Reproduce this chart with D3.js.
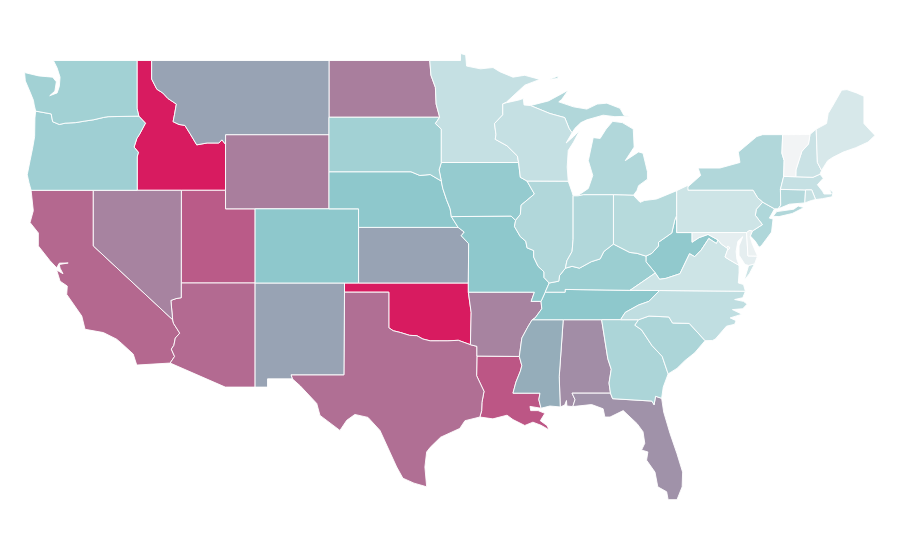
<!DOCTYPE html>
<html>
<head>
<meta charset="utf-8">
<style>
  html, body { margin: 0; padding: 0; background: #fff; }
  .state { stroke: #fff; stroke-width: 0.9; stroke-linejoin: round; }
</style>
<script src="https://cdn.jsdelivr.net/npm/d3@7"></script>
</head>
<body>
<script>
// values, same order in both lists
var stateNames = ["ID","OK","LA","UT","CA","AZ","TX","WY","ND","NV","AR","AL","FL","KS","MT","NM","MS",
  "CO","NE","TN","MO","WV","IA","KY","OR","WA","SD","GA","SC","NJ","IL","MI","NY","IN","CT","OH",
  "NC","MN","WI","MA","RI","NH","VA","PA","ME","MD","DE","DC","VT"];
var stateValues = [100,100,76,74,69,68,66,60,60,58,58,54,52,45,45,45,41,
  30,30,30,30,29,28,26,25,24,24,21,21,20,19.5,19.5,19.5,19.5,19,18,
  15,13.5,13.5,13.5,13,12,11,11,8,4,2,1,0];

var colorDomain = [0, 30, 45, 100];
var colorRange = ["#f2f4f5", "#8ec8cc", "#98a3b4", "#d81b60"];

// lon/lat limits of the flat projection and where they land on the page
var lonDomain = [-120, -80.52], xRange = [93.3, 676.7];
var latDomain = [49, 37, 25.1], yRange = [60.5, 283, 501.5];

// shared borders, hand traced, each one used by both neighbours
var borders = {
  waCoast: [[-122.7,49],[-122.45,48.6],[-122.25,48.1],[-122.3,47.6],[-122.45,47.25],[-122.95,47.1],[-122.6,47.35],[-122.5,47.85],[-122.75,48.1],[-123.15,48.13],[-123.7,48.17],[-124.65,48.35],[-124.6,47.9],[-124.28,47.3],[-124.05,46.85],[-124,46.6],[-123.9,46.27]],
  waOr: [[-123.9,46.27],[-123.4,46.2],[-122.85,46.12],[-122.75,45.7],[-122.3,45.55],[-121.9,45.62],[-121.2,45.65],[-120.6,45.73],[-120,45.8],[-119.3,45.93],[-119,45.97],[-116.92,46]],
  waId: [[-117.04,49],[-117.04,46.42],[-116.92,46]],
  orCoast: [[-123.9,46.27],[-123.95,45.9],[-123.97,44.9],[-124.1,44.3],[-124.28,43.6],[-124.47,42.84],[-124.35,42.4],[-124.21,42]],
  orId: [[-116.92,46],[-116.47,45.62],[-116.85,45.05],[-117.05,44.8],[-117.24,44.33],[-116.95,44.05],[-117.03,43.8],[-117.03,42]],
  idSouth: [[-117.03,42],[-114.04,42],[-111.05,42]],
  idWy: [[-111.05,42],[-111.05,44.48]],
  idMt: [[-116.05,49],[-116.05,48],[-115.7,47.45],[-115.3,47.25],[-114.95,46.95],[-114.38,46.65],[-114.5,46.1],[-114.6,45.7],[-114.2,45.55],[-113.8,45.5],[-113.45,45.05],[-113,44.45],[-112.3,44.55],[-111.5,44.55],[-111.3,44.72],[-111.05,44.48]],
  wyTop: [[-111.05,44.48],[-111.05,45],[-104.05,45]],
  ndMn: [[-97.23,49],[-97.15,48.2],[-96.85,47.55],[-96.8,46.65],[-96.56,45.94]],
  sdMn: [[-96.56,45.94],[-96.85,45.6],[-96.45,45.3],[-96.45,43.5]],
  sdIa: [[-96.45,43.5],[-96.6,43.1],[-96.45,42.5]],
  neSd: [[-96.45,42.5],[-97.2,42.85],[-97.9,42.8],[-98.5,43],[-104.05,43]],
  neIa: [[-96.45,42.5],[-96.35,42.1],[-96.1,41.5],[-95.85,41],[-95.77,40.58]],
  neMo: [[-95.77,40.58],[-95.31,40]],
  iaNorth: [[-96.45,43.5],[-91.22,43.5]],
  iaWi: [[-91.22,43.5],[-91.1,42.7],[-90.65,42.5]],
  iaIl: [[-90.65,42.5],[-90.15,41.8],[-91.05,41.2],[-91.1,40.7],[-91.42,40.38]],
  iaMo: [[-91.42,40.38],[-91.73,40.61],[-95.77,40.58]],
  mnLake: [[-97.23,49],[-95.15,49],[-95.15,49.38],[-94.8,49.3],[-94.74,48.7],[-93.8,48.55],[-92.95,48.62],[-92.5,48.4],[-91.6,48.1],[-91,48.18],[-90.8,48.2],[-89.78,47.98],[-90.8,47.67],[-92.05,46.75],[-92.29,46.66]],
  mnWi: [[-92.29,46.66],[-92.29,46.07],[-92.85,45.6],[-92.75,45],[-92.8,44.75],[-92,44.4],[-91.3,43.85],[-91.22,43.5]],
  wiLake: [[-92.29,46.66],[-92.05,46.72],[-91.2,46.87],[-90.9,46.95],[-90.85,46.6],[-90.42,46.57]],
  wiMi: [[-90.42,46.57],[-89.1,46.14],[-88.1,45.92],[-87.8,45.33],[-87.6,45.1]],
  wiEast: [[-87.6,45.1],[-88,44.55],[-87.5,44.9],[-87.07,45.25],[-87.5,44.6],[-87.86,44.15],[-87.93,43.25],[-87.86,42.49]],
  wiIl: [[-87.86,42.49],[-90.65,42.5]],
  upNorth: [[-90.42,46.57],[-89.2,46.82],[-88.55,47.1],[-87.86,47.4],[-88.3,46.9],[-88.5,46.77],[-87.5,46.5],[-86.6,46.38],[-85.9,46.65],[-85.25,46.7],[-84.35,46.42],[-84.1,46.05],[-83.7,46],[-84.7,45.97],[-85.5,46.05],[-86.6,45.8],[-87,45.65],[-87.4,45.35],[-87.6,45.1]],
  lpWest: [[-84.85,45.72],[-85.3,45.3],[-85.7,44.8],[-86.17,44.84],[-86.5,43.6],[-86.2,42.8],[-86.5,42.1],[-87.3,41.66],[-86.82,41.76]],
  miIn: [[-86.82,41.76],[-84.8,41.76]],
  miOh: [[-84.8,41.76],[-83.45,41.73]],
  lpEast: [[-83.45,41.73],[-83.2,42],[-83.1,42.25],[-82.5,42.6],[-82.5,43],[-82.8,44],[-83.1,44.07],[-84,43.6],[-83.4,44.33],[-83.46,45.3],[-84.2,45.65],[-84.85,45.72]],
  moIl: [[-91.42,40.38],[-91.5,40.05],[-91.1,39.5],[-90.73,39.25],[-90.65,38.9],[-90.2,38.75],[-90.2,38.4],[-89.9,37.9],[-89.5,37.6],[-89.5,37.3],[-89.15,37]],
  moKy: [[-89.15,37],[-89.42,36.5]],
  moTn: [[-89.42,36.5],[-89.7,36]],
  moAr: [[-89.7,36],[-90.37,36],[-90.15,36.5],[-94.62,36.5]],
  moOk: [[-94.62,36.5],[-94.62,37]],
  ksMo: [[-94.62,37],[-94.6,39.12],[-95.1,39.55],[-94.9,39.75],[-95.31,40]],
  okAr: [[-94.62,36.5],[-94.43,35.4],[-94.48,33.64]],
  redRiver: [[-94.48,33.64],[-95.3,33.88],[-96,33.85],[-96.6,33.85],[-97.2,33.85],[-97.7,33.95],[-98.1,34.13],[-98.6,34.15],[-99.2,34.3],[-99.7,34.4],[-100,34.56]],
  arTx: [[-94.48,33.64],[-94.04,33.55],[-94.04,33.02]],
  laTx: [[-94.04,33.02],[-94.06,31.95],[-93.56,31.1],[-93.7,30.5],[-93.72,30.05],[-93.84,29.7]],
  txCoast: [[-93.84,29.7],[-94.85,29.5],[-95.2,29.08],[-96.5,28.6],[-97.2,28.05],[-97.44,27.8],[-97.56,26.98],[-97.44,25.9]],
  rioGrande: [[-97.44,25.9],[-98.3,26.1],[-99.05,26.37],[-99.47,26.98],[-100.6,28.97],[-101.41,29.68],[-102.3,29.84],[-102.85,29.52],[-103.31,28.97],[-104.66,29.79],[-104.88,30.44],[-106,31.4],[-106.53,31.78]],
  tnAr: [[-89.7,36],[-89.65,35.6],[-90.1,35.1],[-90.3,35]],
  arMs: [[-90.3,35],[-90.6,34.6],[-91,34],[-91.17,33]],
  arLa: [[-91.17,33],[-94.04,33.02]],
  laMs: [[-91.17,33],[-91,32.5],[-91.1,32.2],[-91.4,31.6],[-91.6,31],[-89.77,31],[-89.85,30.65],[-89.7,30.18]],
  laCoast: [[-89.7,30.18],[-90.45,30.28],[-90.4,30.05],[-89.9,30.05],[-89.44,29.9],[-89.75,29.5],[-89.3,29.24],[-89.15,29],[-89.7,29.25],[-90.25,29.42],[-90.8,29.24],[-91.6,29.56],[-92,29.8],[-92.96,29.6],[-93.84,29.7]],
  msAl: [[-88.2,35],[-88.47,31.9],[-88.4,30.25]],
  tnSouth: [[-90.3,35],[-88.2,35],[-85.6,35],[-84.32,35]],
  tnNc: [[-84.32,35],[-84,35.4],[-83.1,35.8],[-82.4,36],[-81.68,36.59]],
  tnVa: [[-81.68,36.59],[-83.68,36.6]],
  kyTn: [[-83.68,36.6],[-88.07,36.65],[-88.07,36.5],[-89.42,36.5]],
  kyIl: [[-89.15,37],[-88.5,37.1],[-88.45,37.4],[-88.05,37.8]],
  kyIn: [[-88.05,37.8],[-87.6,37.9],[-87.1,37.8],[-86.3,38.15],[-85.7,38.3],[-85.45,38.7],[-84.8,39.1]],
  kyOh: [[-84.8,39.1],[-83.7,38.65],[-83.2,38.6],[-82.6,38.45]],
  kyWv: [[-82.6,38.45],[-82.6,38.15],[-81.97,37.54]],
  kyVa: [[-81.97,37.54],[-83.68,36.6]],
  ilIn: [[-87.53,41.7],[-87.53,39.35],[-87.6,38.7],[-87.95,38.2],[-88.05,37.8]],
  inOh: [[-84.8,41.76],[-84.8,39.1]],
  ohPa: [[-80.52,41.98],[-80.52,40.64]],
  ohWv: [[-80.52,40.64],[-80.65,40.4],[-80.85,39.7],[-81.75,39.2],[-81.75,39],[-82.2,38.6],[-82.6,38.45]],
  paNy: [[-75.35,42],[-75.05,41.6],[-74.7,41.36]],
  paNj: [[-74.7,41.36],[-75.13,40.98],[-75.2,40.65],[-74.72,40.15],[-75.4,39.8]],
  paDe: [[-75.4,39.8],[-75.6,39.83],[-75.79,39.72]],
  paMd: [[-75.79,39.72],[-79.48,39.72]],
  paWv: [[-79.48,39.72],[-80.52,39.72],[-80.52,40.64]],
  wvMd: [[-79.48,39.72],[-79.48,39.2],[-79,39.45],[-78.4,39.62],[-77.72,39.32]],
  wvVa: [[-77.72,39.32],[-77.83,39.13],[-78.35,39.4],[-78.87,38.77],[-79.3,38.42],[-79.65,38.58],[-80.3,37.5],[-81.25,37.25],[-81.68,37.2],[-81.97,37.54]],
  vaMd: [[-77.72,39.32],[-77.5,39.1],[-77.05,38.85],[-77.25,38.4],[-76.95,38.25],[-76.3,37.95]],
  vaNc: [[-75.87,36.55],[-81.68,36.59]],
  mdDe: [[-75.79,39.72],[-75.7,38.46],[-75.05,38.45]],
  njNy: [[-73.9,41],[-74.7,41.36]],
  nyVt: [[-73.35,45],[-73.4,44],[-73.25,43.6],[-73.28,42.75]],
  nyMa: [[-73.28,42.75],[-73.5,42.05]],
  nyCt: [[-73.5,42.05],[-73.48,41.2],[-73.65,41]],
  vtNh: [[-71.5,45.01],[-71.6,44.5],[-72.05,44.1],[-72.45,43.1],[-72.46,42.73]],
  vtMa: [[-72.46,42.73],[-73.28,42.75]],
  nhMe: [[-71.08,45.3],[-71,43.5],[-70.72,43.07]],
  nhMa: [[-70.82,42.87],[-71.3,42.7],[-72.46,42.73]],
  maRi: [[-71.12,41.5],[-71.38,42.02],[-71.8,42.02]],
  maCt: [[-71.8,42.02],[-73.5,42.05]],
  riCt: [[-71.8,42.02],[-71.85,41.32]],
  ncSc: [[-78.6,33.86],[-79.67,34.8],[-80.8,34.82],[-81.05,35.15],[-82.4,35.2],[-83.1,35]],
  ncGa: [[-83.1,35],[-84.32,35]],
  scGa: [[-81.1,32.05],[-81.5,33],[-82.2,33.6],[-82.9,34.45],[-83.35,34.7],[-83.1,35]],
  gaFl: [[-81.54,30.72],[-81.95,30.83],[-82.05,30.37],[-82.2,30.57],[-84.86,30.7],[-85,31]],
  gaAl: [[-85,31],[-85.1,31.55],[-84.95,32.3],[-85.18,32.87],[-85.6,35]],
  alFl: [[-85,31],[-87.6,31],[-87.4,30.65],[-87.55,30.27]],
  caNv: [[-120,42],[-120,39],[-114.63,35]],
  caAz: [[-114.63,35],[-114.57,34.8],[-114.15,34.27],[-114.45,34],[-114.55,33.6],[-114.72,33.4],[-114.5,33],[-114.8,32.64]],
  nvAz: [[-114.05,37],[-114.05,36.2],[-114.4,36.15],[-114.75,36.05],[-114.63,35]]
};

// rings: a string is a border ("-" runs it backwards), an array is a loose point
var shapes = {
  WA: [["waId","-waOr","-waCoast"]],
  OR: [["waOr","orId",[-124.21,42],"-orCoast"]],
  ID: [["waId","orId","idSouth","idWy","-idMt"]],
  MT: [["idMt","wyTop",[-104.05,45.94],[-104.05,49]]],
  WY: [["idWy","wyTop",[-104.05,41],[-111.05,41]]],
  ND: [[[-104.05,49],"ndMn",[-104.05,45.94]]],
  SD: [[[-104.05,45.94],"sdMn","sdIa","neSd"]],
  NE: [["-neSd","neIa","neMo",[-102.05,40],[-102.05,41],[-104.05,41]]],
  IA: [["iaNorth","iaWi","iaIl","iaMo","-neIa","-sdIa"]],
  MN: [["mnLake","mnWi","-iaNorth","-sdMn","-ndMn"]],
  WI: [["wiLake","wiMi","wiEast","wiIl","-iaWi","-mnWi"]],
  MI: [["upNorth","-wiMi"],["lpWest","miIn","miOh","lpEast"],[[-89.2,47.97],[-88.5,48.17],[-88.6,48.03]]],
  MO: [["-iaMo","moIl","moKy","moTn","moAr","moOk","ksMo","-neMo"]],
  KS: [[[-102.05,40],"-ksMo",[-102.05,37]]],
  OK: [[[-103,37],"-moOk","okAr","redRiver",[-100,36.5],[-103,36.5]]],
  TX: [[[-103,36.5],[-100,36.5],"-redRiver","arTx","laTx","txCoast","rioGrande",[-106.62,32],[-103.04,32]]],
  AR: [["-moAr","tnAr","arMs","arLa","-arTx","-okAr"]],
  LA: [["-arLa","laMs","laCoast","-laTx"]],
  MS: [["msAl",[-89.1,30.3],"-laMs","-arMs"]],
  TN: [["moTn","tnAr","tnSouth","tnNc","tnVa","kyTn"]],
  KY: [["kyTn","-moKy","kyIl","kyIn","kyOh","kyWv","kyVa"]],
  IL: [["-wiIl",[-87.6,41.9],"ilIn","-kyIl","-moIl","-iaIl"]],
  IN: [[[-87.2,41.7],"miIn","inOh","-kyIn","-ilIn"]],
  OH: [["miOh",[-83,41.35],[-82.7,41.45],[-81.88,41.53],"ohPa","ohWv","-kyOh","-inOh"]],
  PA: [[[-80.52,41.98],[-79.76,42.27],[-79.76,42],"paNy","paNj","paDe","paMd","paWv","-ohPa"]],
  WV: [["-paWv","wvMd","wvVa","-kyWv","-ohWv"]],
  VA: [["-wvVa","vaMd",[-76.3,37.55],[-76.35,37],[-76,36.92],"vaNc","tnVa","-kyVa"],[[-75.95,37.15],[-75.65,37.95],[-75.25,38.03],[-75.6,37.5]]],
  MD: [["-paMd","mdDe",[-75.25,38.03],[-75.65,37.95],[-75.9,38],[-76.3,38.5],[-76.3,39],[-76.05,39.5],[-76.38,39.25],[-76.5,38.7],[-76.45,38.3],"-vaMd","-wvMd"]],
  DC: [[[-77.12,38.93],[-77.04,39],[-76.91,38.89],[-77.04,38.79]]],
  DE: [["paDe","mdDe",[-75.4,39.1],[-75.55,39.5]]],
  NJ: [["paNj",[-75.55,39.55],[-75.2,39.25],[-74.95,38.93],[-74.8,39],[-74.1,39.75],[-74,40.45],[-74.25,40.5],"njNy"]],
  NY: [[[-79.8,42.16],[-78.9,42.8],[-79.07,43.2],[-77.6,43.2],[-76.24,43.5],[-76.35,44.06],[-75.1,44.9],[-74.7,45],"nyVt","nyMa","nyCt","njNy","-paNy",[-79.76,42]],[[-74,40.6],[-73.75,40.85],[-72.6,40.98],[-72.3,41.15],[-71.9,41.07],[-72.7,40.75],[-73.6,40.58]]],
  VT: [[[-73.35,45],"vtNh","vtMa","-nyVt"]],
  NH: [[[-71.08,45.3],"nhMe","nhMa","-vtNh"]],
  ME: [[[-71.08,45.3],[-70.38,45.6],[-70.27,46.14],[-69.93,46.6],[-69.36,47.4],[-69,47.43],[-68.35,47.25],[-67.85,47.07],[-67.85,45.6],[-67.45,45.25],[-67.1,44.96],[-67.57,44.6],[-68.4,44.3],[-69.25,44.06],[-69.95,43.78],[-70.3,43.6],[-70.72,43.07],"-nhMe"]],
  MA: [["-nyMa","-vtMa","-nhMa",[-70.6,42.65],[-71,42.3],[-70.65,41.95],[-70.55,41.8],[-70.05,41.8],[-70.2,42.07],[-69.95,41.9],[-70,41.65],[-70.65,41.55],"maRi","maCt"]],
  RI: [["maRi","riCt",[-71.4,41.45]]],
  CT: [["maCt","nyCt",[-72.9,41.25],"-riCt"]],
  NC: [["tnNc","-vaNc",[-76.05,36.2],[-76.6,36.1],[-76,36],[-75.75,35.85],[-76.05,35.6],[-76.75,35.55],[-76.1,35.3],[-76.9,35.1],[-76.5,34.95],[-76.6,34.75],[-77.15,34.65],[-77.9,33.95],[-78.1,33.87],"ncSc","ncGa"]],
  SC: [["-ncSc",[-79.3,33.2],[-79.97,32.77],[-80.5,32.35],"scGa"]],
  GA: [[[-85.6,35],"-ncGa","-scGa",[-81.43,31.33],"gaFl","gaAl"]],
  AL: [[[-88.2,35],"-gaAl","alFl",[-87.95,30.3],[-87.98,30.6],[-88.1,30.35],"-msAl"]],
  FL: [["-alFl","-gaFl",[-81.4,29.97],[-80.97,28.8],[-80.5,27.7],[-80.12,26.7],[-80.15,25.9],[-80.5,25.2],[-81.1,25.2],[-81.2,25.63],[-81.8,25.9],[-81.99,26.7],[-82.56,27.35],[-82.47,27.8],[-82.9,27.9],[-82.68,28.27],[-82.8,28.9],[-83.2,29.34],[-84.14,30.05],[-85.03,29.7],[-85.38,29.7],[-85.5,30.15],[-86.28,30.38]]],
  CA: [[[-124.21,42],"caNv","caAz",[-117.06,32.53],[-117.3,33.13],[-118.1,33.72],[-118.42,33.94],[-119.32,34.3],[-120.56,34.48],[-120.78,35.2],[-121.8,36.38],[-121.76,36.83],[-122.25,37.1],[-122.48,37.7],[-122.05,37.5],[-122.25,37.8],[-122.3,38],[-121.7,38.08],[-122.3,38.07],[-122.48,37.82],[-122.93,38.2],[-123.72,39],[-123.72,39.7],[-124.28,40.26],[-124.06,40.9]]],
  NV: [[[-120,42],[-114.04,42],"nvAz","-caNv"]],
  UT: [[[-114.04,42],[-111.05,42],[-111.05,41],[-109.05,41],[-109.05,37],[-114.05,37]]],
  AZ: [[[-114.05,37],[-109.05,37],[-109.05,31.33],[-111.07,31.33],"-caAz","-nvAz"]],
  NM: [[[-109.05,37],[-103,37],[-103,36.5],[-103.04,32],[-106.62,32],[-106.53,31.78],[-108.21,31.78],[-108.21,31.33],[-109.05,31.33]]],
  CO: [[[-109.05,41],[-102.05,41],[-102.05,37],[-109.05,37]]]
};

function buildRing(parts) {
  var pts = [];
  parts.forEach(function(p) {
    if (typeof p !== "string") { pts.push(p); return; }
    var rev = p[0] === "-";
    var arc = borders[rev ? p.slice(1) : p].slice();
    if (rev) arc.reverse();
    arc.forEach(function(c) { pts.push(c); });
  });
  pts.push(pts[0]);
  return pts;
}

var width = 900, height = 560;

var x = d3.scaleLinear().domain(lonDomain).range(xRange);
var y = d3.scaleLinear().domain(latDomain).range(yRange);
var color = d3.scaleLinear().domain(colorDomain).range(colorRange);

// the map is plain lon/lat stretched to fit, so no spherical projection here
var flat = d3.geoTransform({
  point: function(lon, lat) { this.stream.point(x(lon), y(lat)); }
});
var path = d3.geoPath(flat);

var features = stateNames.map(function(name, i) {
  return {
    type: "Feature",
    properties: { name: name, value: stateValues[i] },
    geometry: {
      type: "MultiPolygon",
      coordinates: shapes[name].map(function(r) { return [buildRing(r)]; })
    }
  };
});

var svg = d3.select("body").append("svg")
  .attr("width", width)
  .attr("height", height)
  .style("display", "block");

svg.selectAll("path.state").data(features).enter()
  .append("path")
  .attr("class", "state")
  .attr("d", path)
  .attr("fill", function(d) { return color(d.properties.value); });
</script>
</body>
</html>
